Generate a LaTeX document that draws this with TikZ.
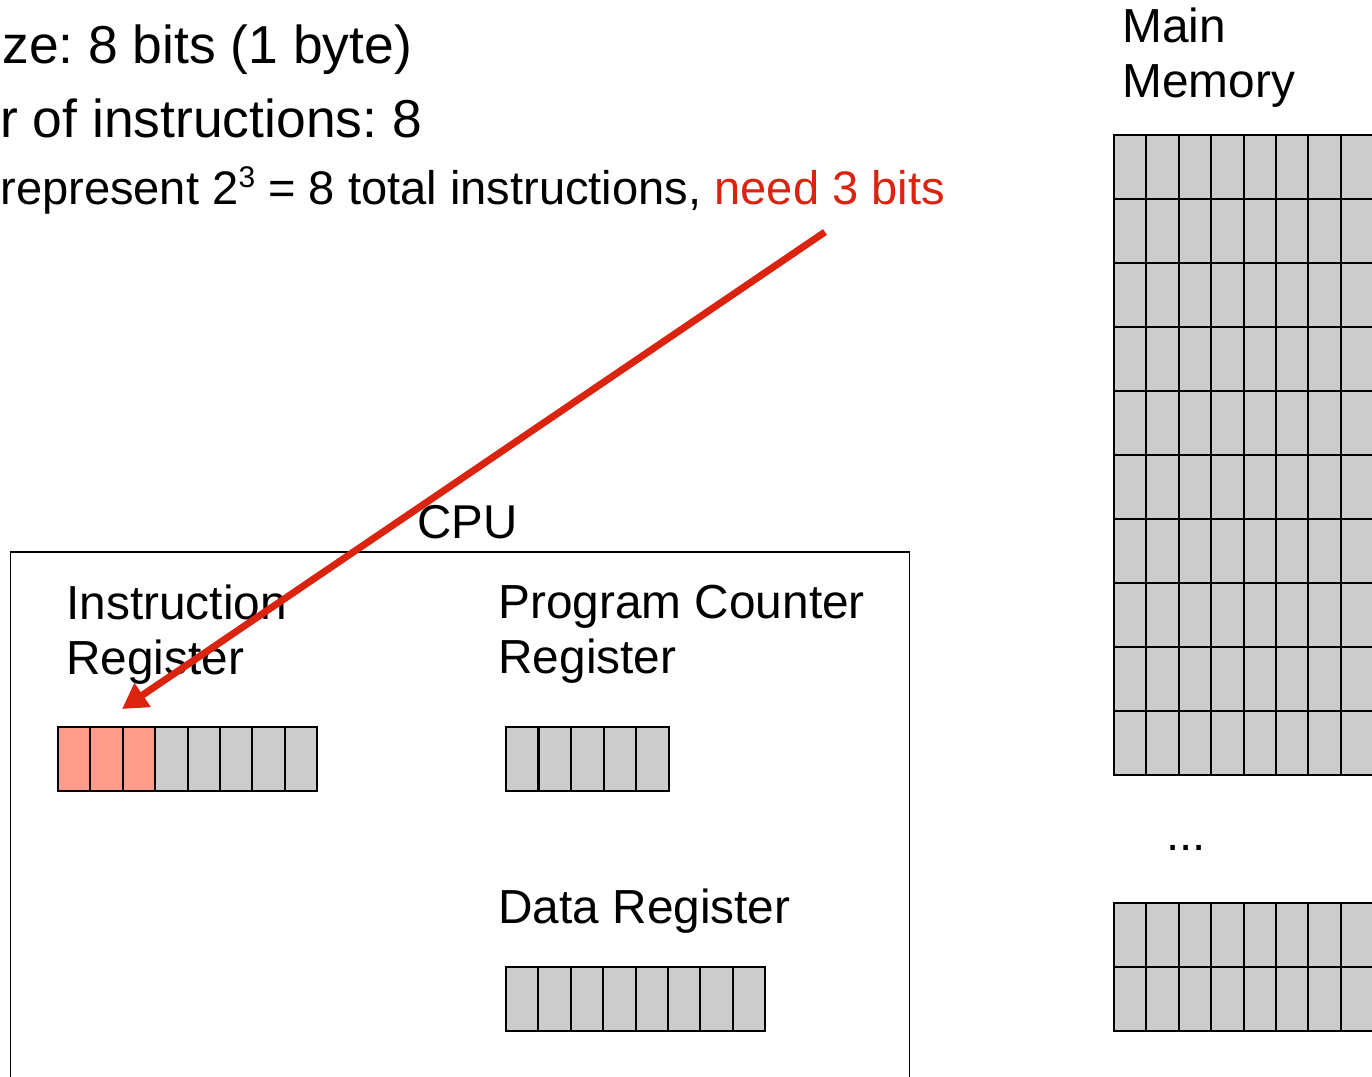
\documentclass[tikz,border=0pt]{standalone}
\usepackage{fontspec}
\setmainfont{Liberation Sans}
\usepackage{tikz}
\usetikzlibrary{arrows.meta,positioning,calc}
\frenchspacing

\definecolor{hintred}{RGB}{218,36,16}
\definecolor{cellgray}{RGB}{204,204,204}
\definecolor{opbits}{RGB}{255,156,140}

\newcommand{\smallsup}[1]{\raisebox{0.34em}{\fontsize{17}{17}\selectfont #1}}

\tikzset{
  cell/.style = {draw, line width=0.04cm, fill=cellgray, anchor=north west,
                 minimum width=0.648cm, minimum height=1.28cm, inner sep=0pt, outer sep=0pt},
  opcell/.style = {cell, fill=opbits},
  label/.style = {anchor=north west, inner sep=0pt, align=left,
                  font=\fontsize{27.2}{31.3}\selectfont},
  bullet/.style = {anchor=base west, inner sep=0pt, font=\fontsize{30.4}{36}\selectfont},
  subbullet/.style = {anchor=base west, inner sep=0pt, font=\fontsize{27}{32}\selectfont},
  hint/.style = {draw=hintred, line width=0.14cm, -{Triangle[length=0.5cm,width=0.55cm]}}
}

\begin{document}
\begin{tikzpicture}[x=0.02cm, y=-0.02cm]

  \useasboundingbox (0,0) rectangle (1372,1076);
  \clip (0,0) rectangle (1372,1076);

  % Slide text
  \node[bullet] (size) at (2,63) {ze: 8 bits (1 byte)};
  \node[bullet] (count) at (0,137) {r of instructions: 8};
  \node[subbullet, font=\fontsize{26.8}{32}\selectfont] (need) at (0,204)
    {represent 2\smallsup{3} = 8 total instructions, \textcolor{hintred}{need 3 bits}};

  % CPU
  \node[draw, line width=0.03cm, anchor=north west, minimum width=17.98cm, minimum height=12cm,
        inner sep=0pt] (cpu) at (10,551) {};
  \node[subbullet] (cpulabel) at (417,538) {CPU};

  \node[label] (irlabel) at (66,585) {Instruction\\Register};
  \node[label] (pclabel) at (498,585) {Program Counter\\Register};
  \node[label] (drlabel) at (498,889) {Data Register};

  % Registers
  \foreach \c in {0,1,2}
    \node[opcell] (ir\c) at (58+32.4*\c,727) {};
  \foreach \c in {3,...,7}
    \node[cell] (ir\c) at (58+32.4*\c,727) {};
  \foreach \c in {0,...,4}
    \node[cell] (pc\c) at (506+32.6*\c,727) {};
  \foreach \c in {0,...,7}
    \node[cell] (dr\c) at (506+32.4*\c,967) {};

  % Main memory
  \node[label] (memlabel) at (1122,8) {Main\\Memory};
  \foreach \r in {0,...,9}
    \foreach \c in {0,...,7}
      \node[cell] (mem\r-\c) at (1114+32.4*\c,135+64*\r) {};
  \node[subbullet] (dots) at (1166,850) {...};
  \foreach \r in {0,1}
    \foreach \c in {0,...,7}
      \node[cell] (low\r-\c) at (1114+32.4*\c,903+64*\r) {};

  % Arrow to the opcode bits
  \coordinate (hintstart) at (825,232);
  \coordinate (optip) at (122,709);
  \draw[hint] (hintstart) -- (optip);

\end{tikzpicture}
\end{document}
